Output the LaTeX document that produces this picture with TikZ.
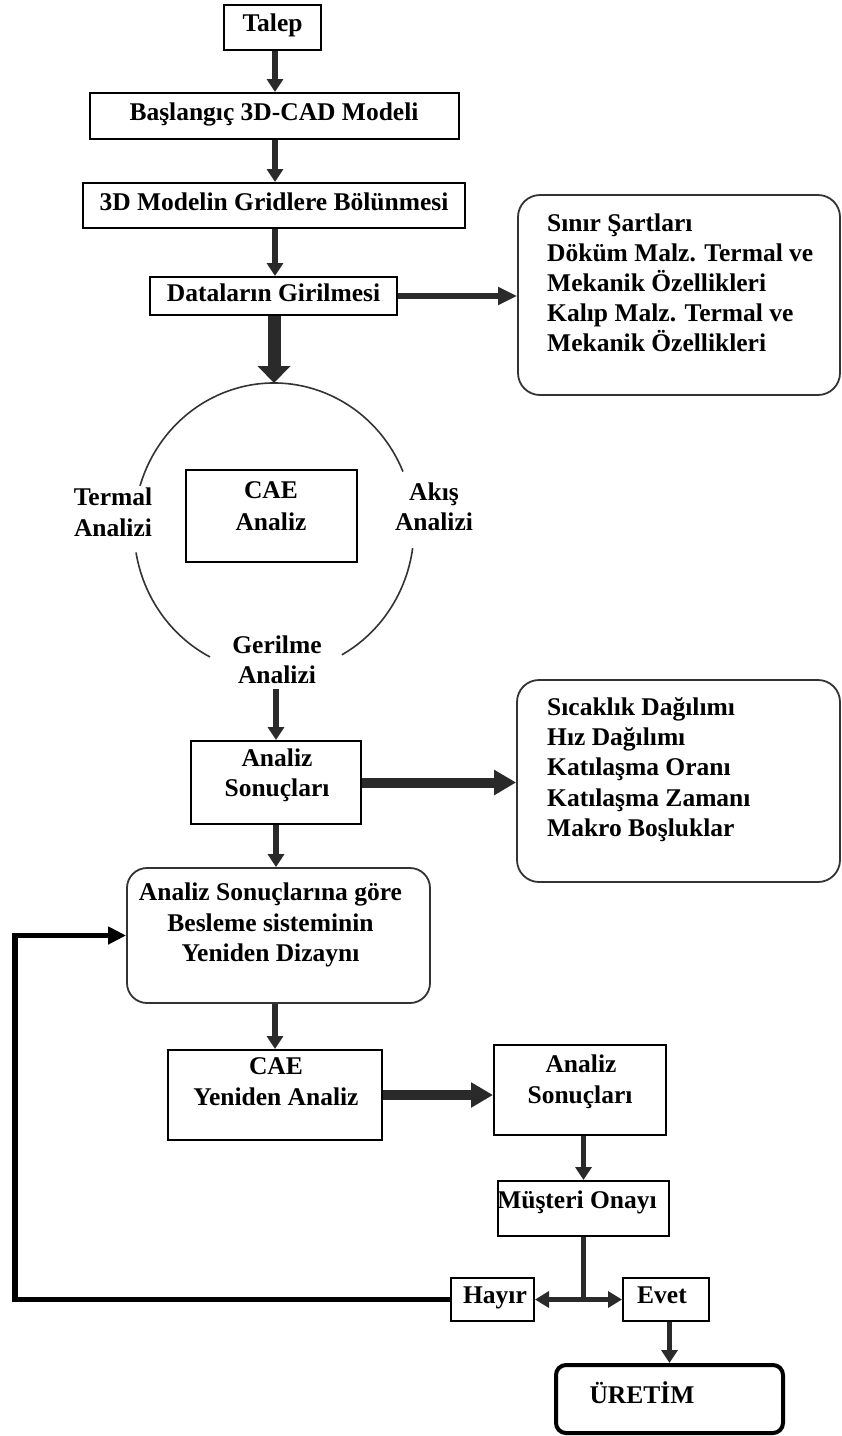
\documentclass[tikz,border=0pt]{standalone}
\usepackage{fontspec}
\setmainfont{Liberation Serif}
\usetikzlibrary{arrows.meta}
\definecolor{ink}{HTML}{2A2A2A}
\definecolor{edge}{HTML}{333333}
\begin{document}
\begin{tikzpicture}[x=1pt,y=-1pt,
  box/.style={draw=black, line width=2pt, inner sep=0, minimum width=#1},
  rbox/.style={draw=edge, line width=1.8pt, rounded corners=22pt, inner sep=0, minimum width=#1},
  txt/.style={font=\fontsize{25.5}{30}\selectfont\bfseries, inner sep=0, anchor=base},
  ltxt/.style={txt, anchor=base west},
  arr/.style={draw=ink, line width=5.5pt, -{Triangle[length=13pt,width=16pt]}},
  harr/.style={draw=ink, line width=6pt, -{Triangle[length=19pt,width=17pt]}},
  thick arr/.style={draw=ink, line width=10pt, -{Triangle[length=22pt,width=24pt]}},
  big arr/.style={draw=ink, line width=13pt, -{Triangle[length=17pt,width=32pt]}},
  ring/.style={draw=edge, line width=1.6pt}
]
\useasboundingbox (0,0) rectangle (842,1436);
\fill[white] (0,0) rectangle (842,1436);

% boxes
\node[box=97pt, minimum height=45pt] (talep) at (272.5,27.5) {};
\node[box=369pt, minimum height=46pt] (basl) at (274.5,116) {};
\node[box=382pt, minimum height=45pt] (grid) at (274,205.5) {};
\node[box=247pt, minimum height=38pt] (data) at (273.5,296) {};
\node[rbox=322pt, minimum height=200pt] (box1) at (679,295) {};
\node[box=171pt, minimum height=92pt] (cae) at (271.5,516) {};
\node[box=170pt, minimum height=83pt] (res1) at (276,782.5) {};
\node[rbox=323pt, minimum height=202pt] (box2) at (678.5,781) {};
\node[rbox=303pt, minimum height=135pt, rounded corners=20pt] (box3) at (278.5,935.5) {};
\node[box=214pt, minimum height=90pt] (caey) at (275,1095) {};
\node[box=172pt, minimum height=90pt] (res2) at (580,1090) {};
\node[box=171pt, minimum height=55pt] (onay) at (583.5,1208.5) {};
\node[box=83pt, minimum height=43pt] (hayir) at (492.5,1299.5) {};
\node[box=86pt, minimum height=43pt] (evet) at (666,1299.5) {};
\node[draw=black, line width=4pt, rounded corners=10pt, inner sep=0, minimum width=227pt, minimum height=68pt] (uretim) at (669.5,1399) {};

% texts
\node[txt] (t1) at (272.5,31) {Talep};
\node[txt] (t2) at (274,120) {Başlangıç 3D-CAD Modeli};
\node[txt] (t3) at (274,210) {3D Modelin Gridlere Bölünmesi};
\node[txt] (t4) at (273.5,301) {Dataların Girilmesi};
\foreach \s [count=\i] in {Sınır Şartları, Döküm Malz. Termal ve, Mekanik Özellikleri, Kalıp Malz. Termal ve, Mekanik Özellikleri}
  \node[ltxt] (b1l\i) at (547,{201+30*\i}) {\s};
\node[txt] (cae1) at (271,498) {CAE};
\node[txt] (cae2) at (271,530) {Analiz};
\node[txt] (ter1) at (113,505) {Termal};
\node[txt] (ter2) at (113,536) {Analizi};
\node[txt] (aki1) at (434,500) {Akış};
\node[txt] (aki2) at (434,530) {Analizi};
\node[txt] (ger1) at (277,653) {Gerilme};
\node[txt] (ger2) at (277,683) {Analizi};
\node[txt] (r1a) at (277,766) {Analiz};
\node[txt] (r1b) at (277,796) {Sonuçları};
\foreach \s [count=\i] in {Sıcaklık Dağılımı, Hız Dağılımı, Katılaşma Oranı, Katılaşma Zamanı, Makro Boşluklar}
  \node[ltxt] (b2l\i) at (547,{685+30.3*\i}) {\s};
\node[txt] (b3a) at (270.5,900) {Analiz Sonuçlarına göre};
\node[txt] (b3b) at (270.5,931) {Besleme sisteminin};
\node[txt] (b3c) at (270.5,961) {Yeniden Dizaynı};
\node[txt] (cy1) at (276,1074) {CAE};
\node[txt] (cy2) at (276,1105) {Yeniden Analiz};
\node[txt] (r2a) at (581,1072) {Analiz};
\node[txt] (r2b) at (580,1103) {Sonuçları};
\node[txt] (t5) at (577,1208) {Müşteri Onayı};
\node[txt] (t6) at (495,1303) {Hayır};
\node[txt] (t7) at (662,1303) {Evet};
\node[txt] (t8) at (642,1403) {ÜRETİM};

% ring around CAE analysis
\coordinate (ec) at (274,528);
\coordinate (etop) at (274,383);
\draw[ring] (ec) ++(-22.9:140 and 145) arc[start angle=-22.9, end angle=-163.1, x radius=140, y radius=145];
\draw[ring] (ec) ++(-189.7:140 and 145) arc[start angle=-189.7, end angle=-242.8, x radius=140, y radius=145];
\draw[ring] (ec) ++(8:140 and 145) arc[start angle=8, end angle=61, x radius=140, y radius=145];

% connectors
\draw[arr] (talep.south -| 275,0) -- (basl.north -| 275,0);
\draw[arr] (basl.south -| 275,0) -- (grid.north -| 275,0);
\draw[arr] (grid.south -| 275,0) -- (data.north -| 275,0);
\draw[harr] (data.east) -- (data.east -| box1.west);
\draw[big arr] (data.south -| etop) -- (etop);
\draw[arr] (res1.north |- ger2.south) ++(0,6) -- (res1.north);
\draw[thick arr] (res1.east) -- (res1.east -| box2.west);
\draw[arr] (res1.south) -- (res1.south |- box3.north);
\draw[arr] (box3.south -| caey.north) -- (caey.north);
\draw[thick arr] (caey.east) -- (caey.east -| res2.west);
\draw[arr] (res2.south -| onay.north) -- (onay.north);
\coordinate (jn) at (onay.south |- hayir.east);
\draw[draw=ink, line width=4.5pt] (onay.south) -- (jn);
\draw[draw=ink, line width=5pt, {Triangle[length=14pt,width=16pt]}-{Triangle[length=14pt,width=16pt]}] (hayir.east) -- (evet.west);
\coordinate (loopc) at (15,1299.5);
\draw[draw=black, line width=5.5pt, -{Triangle[length=18pt,width=17pt]}] (hayir.west) -- (loopc) |- (box3.west);
\draw[arr] (evet.south -| uretim.north) -- (uretim.north);
\end{tikzpicture}
\end{document}
